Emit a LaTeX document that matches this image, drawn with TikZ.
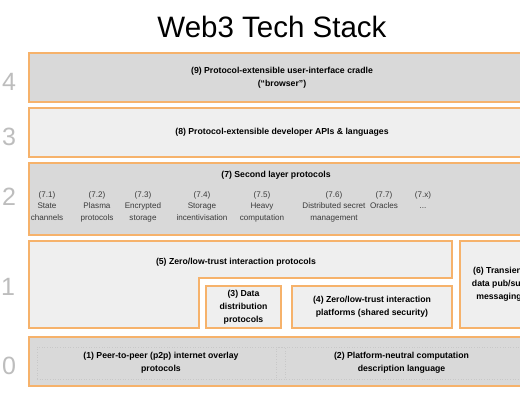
\documentclass[tikz,border=0pt]{standalone}
\usepackage{fontspec}
\setmainfont{Liberation Sans}
\definecolor{lorange}{HTML}{F6B26B}
\definecolor{gA}{HTML}{D9D9D9}
\definecolor{gB}{HTML}{EFEFEF}
\definecolor{numgray}{HTML}{BDBDBD}
\definecolor{subtxt}{HTML}{3A3A3A}
\definecolor{dotgray}{HTML}{C8C8C8}
\begin{document}
\begin{tikzpicture}[x=1pt,y=-1pt,
  layerbox/.style={draw=lorange, line width=1.8pt, inner sep=0pt, outer sep=0pt, align=center,
    font=\fontsize{8.7}{12.8}\selectfont\bfseries},
  dotbox/.style={draw=dotgray, line width=0.6pt, dotted, inner sep=0pt, align=center,
    font=\fontsize{8.7}{12.8}\selectfont\bfseries},
  boxtext/.style={inner sep=0pt, align=center, font=\fontsize{8.7}{12.8}\selectfont\bfseries},
  subitem/.style={inner sep=0pt, anchor=north, align=center, text=subtxt,
    font=\fontsize{8.1}{11.5}\selectfont},
  layernum/.style={inner sep=0pt, text=numgray, font=\fontsize{25}{25}\selectfont},
  titletext/.style={inner sep=0pt, font=\fontsize{29.5}{30}\selectfont}
]
\clip (0,0) rectangle (520,400);
\fill[white] (0,0) rectangle (520,400);

% title
\node[titletext] (title) at (272,27) {Web3 Tech Stack};

% layer numbers
\node[layernum] (n4) at (9,82) {4};
\node[layernum] (n3) at (9,137) {3};
\node[layernum] (n2) at (9,197) {2};
\node[layernum] (n1) at (8,287) {1};
\node[layernum] (n0) at (9,366) {0};

% layer 4
\node[layerbox, fill=gA, minimum width=506pt, minimum height=49pt] (b9) at (282,77.5)
  {(9) Protocol-extensible user-interface cradle\\(``browser'')};

% layer 3
\node[layerbox, fill=gB, minimum width=506pt, minimum height=49pt] (b8) at (282,132.5)
  {(8) Protocol-extensible developer APIs \& languages};

% layer 2
\node[layerbox, fill=gA, minimum width=506pt, minimum height=72pt] (b7) at (282,199) {};
\node[boxtext] (t7) at (276,175) {(7) Second layer protocols};
\node[subitem] (s71) at (47,191) {(7.1)\\State\\channels};
\node[subitem] (s72) at (97,191) {(7.2)\\Plasma\\protocols};
\node[subitem] (s73) at (143,191) {(7.3)\\Encrypted\\storage};
\node[subitem] (s74) at (202,191) {(7.4)\\Storage\\incentivisation};
\node[subitem] (s75) at (262,191) {(7.5)\\Heavy\\computation};
\node[subitem] (s76) at (334,191) {(7.6)\\Distributed secret\\management};
\node[subitem] (s77) at (384,191) {(7.7)\\Oracles};
\node[subitem] (s7x) at (423,191) {(7.x)\\...};

% layer 1
\draw[draw=lorange, line width=1.8pt, fill=gB, line join=miter]
  (29,241) -- (452,241) -- (452,278) -- (199,278) -- (199,328) -- (29,328) -- cycle;
\node[boxtext] (t5) at (236,262) {(5) Zero/low-trust interaction protocols};
\node[layerbox, fill=gB, minimum width=75pt, minimum height=42pt] (b3) at (243.5,307)
  {(3) Data\\distribution\\protocols};
\node[layerbox, fill=gB, minimum width=160pt, minimum height=42pt] (b4) at (372,307)
  {(4) Zero/low-trust interaction\\platforms (shared security)};
\node[layerbox, fill=gB, minimum width=78pt, minimum height=87pt] (b6) at (499,284.5)
  {(6) Transient\\data pub/sub\\messaging};

% layer 0
\node[layerbox, fill=gA, minimum width=506pt, minimum height=49pt] (b0) at (282,361.5) {};
\node[dotbox, minimum width=248pt, minimum height=32pt] (d1) at (161,363)
  {(1) Peer-to-peer (p2p) internet overlay\\protocols};
\node[dotbox, minimum width=251pt, minimum height=32pt] (d2) at (401.5,363)
  {(2) Platform-neutral computation\\description language};
\end{tikzpicture}
\end{document}
